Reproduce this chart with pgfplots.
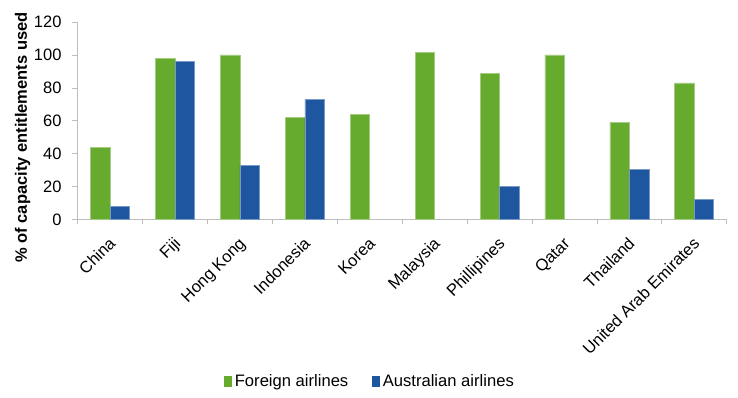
\documentclass[border=0pt]{standalone}
\usepackage{fontspec}
\setmainfont{Liberation Sans}
\usepackage{pgfplots}
\pgfplotsset{compat=1.18}
\definecolor{greenc}{HTML}{66AA2E}
\definecolor{bluec}{HTML}{1F56A0}
\definecolor{axisgray}{HTML}{BEBEBE}
\begin{document}
\begin{tikzpicture}
\useasboundingbox (-77.7bp,-178.3bp) rectangle (660.3bp,219.7bp);
\begin{axis}[
  scale only axis,
  width=649bp, height=197.7bp,
  at={(0,0)}, anchor=south west,
  xmin=-0.5, xmax=9.5,
  ymin=0, ymax=120,
  ytick={0,20,...,120},
  xtick={0,1,...,9},
  xticklabels={China,Fiji,Hong Kong,Indonesia,Korea,Malaysia,Phillipines,Qatar,Thailand,United Arab Emirates},
  minor xtick={-0.5,0.5,...,9.5},
  every major x tick/.append style={draw=none},
  minor tick length=4bp,
  xticklabel style={xshift=4.5bp, yshift=-17bp, rotate=45, anchor=east, inner sep=0pt, text height=0.75em, text depth=0.2em},
  axis lines*=left,
  axis line style={draw=axisgray, line width=0.8bp},
  tick style={draw=axisgray, line width=0.8bp},
  tick align=outside,
  major tick length=6bp,
  /pgf/number format/assume math mode=true,
  tick label style={font=\fontsize{16.5bp}{19bp}\selectfont, text=black},
  yticklabel style={inner sep=0pt, xshift=-10bp},
  ylabel={\% of capacity entitlements used},
  ylabel style={font=\bfseries\fontsize{16.5bp}{19bp}\selectfont, at={(axis description cs:-0.085,0.416)}, anchor=center},
  ybar, bar width=0.3,
  legend columns=2,
  legend image code/.code={\fill[#1,draw=none] (0bp,-5.5bp) rectangle (8.7bp,5.5bp);},
  legend style={at={(0.4504,-0.818)}, anchor=center, draw=none, fill=none,
    font=\fontsize{16.6bp}{19bp}\selectfont,
    nodes={inner xsep=2.4bp, inner ysep=0pt},
    /tikz/every even column/.append style={column sep=21bp}},
]
\addplot[fill=greenc, draw=greenc!60!white, line width=0.6bp, bar shift=-0.15] coordinates {
  (0,44) (1,98) (2,100) (3,62) (4,64) (5,101.5) (6,89) (7,100) (8,59) (9,83)};
\addlegendentry{Foreign airlines}
\addplot[fill=bluec, draw=bluec!60!white, line width=0.6bp, bar shift=0.15] coordinates {
  (0,8) (1,96) (2,33) (3,73) (6,20) (8,30.5) (9,12.5)};
\addlegendentry{Australian airlines}
\end{axis}
\end{tikzpicture}
\end{document}
